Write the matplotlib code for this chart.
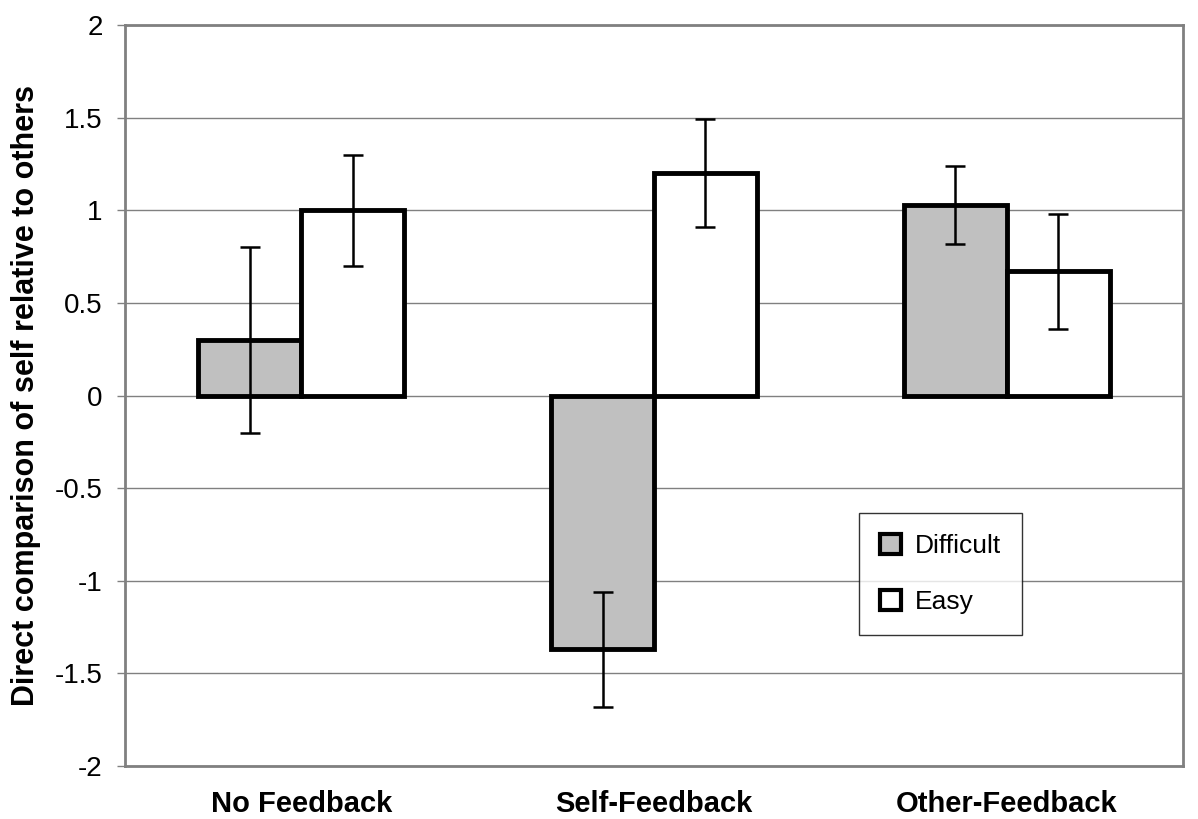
import matplotlib
matplotlib.use("Agg")
import matplotlib.pyplot as plt
import numpy as np

plt.rcParams['font.family'] = ['Liberation Sans', 'DejaVu Sans']

categories = ["No Feedback", "Self-Feedback", "Other-Feedback"]
series_names = ["Difficult", "Easy"]
difficult = [0.30, -1.37, 1.03]
easy = [1.00, 1.20, 0.67]
difficult_err = [0.50, 0.31, 0.21]
easy_err = [0.30, 0.29, 0.31]
yticks = [-2, -1.5, -1, -0.5, 0, 0.5, 1, 1.5, 2]
ytick_labels = ["-2", "-1.5", "-1", "-0.5", "0", "0.5", "1", "1.5", "2"]

fig = plt.figure(figsize=(11.98, 8.19), dpi=100)
ax = fig.add_axes([125/1198, (819-766)/819, (1183-125)/1198, (766-25)/819])

x = np.arange(len(categories))
w = 0.292
ax.set_axisbelow(True)
ax.grid(axis='y', color='#808080', linewidth=1.0)
ax.bar(x - w/2, difficult, w, color='#c0c0c0', edgecolor='black', linewidth=3.5, zorder=2, label=series_names[0])
ax.bar(x + w/2, easy, w, color='white', edgecolor='black', linewidth=3.5, zorder=2, label=series_names[1])
ax.errorbar(x - w/2, difficult, yerr=difficult_err, fmt='none', ecolor='black', elinewidth=1.8, capsize=7, capthick=1.8, zorder=3)
ax.errorbar(x + w/2, easy, yerr=easy_err, fmt='none', ecolor='black', elinewidth=1.8, capsize=7, capthick=1.8, zorder=3)

ax.set_xlim(-0.5, 2.5)
ax.set_ylim(-2, 2)
ax.set_yticks(yticks)
ax.set_yticklabels(ytick_labels, fontsize=20)
ax.set_xticks(x)
ax.set_xticklabels(categories, fontsize=21, fontweight='bold')
ax.tick_params(axis='x', length=0, pad=17)
ax.tick_params(axis='y', length=6, color='#808080', width=1, pad=10)
for s in ax.spines.values():
    s.set_color('#808080')
    s.set_linewidth(2)
ax.set_ylabel("Direct comparison of self relative to others", fontsize=22, fontweight='bold', labelpad=10)

leg = ax.legend(loc='upper left', bbox_to_anchor=((859-125)/1058, (766-513)/741),
                fontsize=19, frameon=True, fancybox=False, edgecolor='black',
                handlelength=0.8, handleheight=0.8, handletextpad=0.5,
                labelspacing=1.2, borderpad=0.8, borderaxespad=0)
leg.get_frame().set_linewidth(1)
for h in leg.legend_handles:
    h.set_linewidth(3)

fig.savefig("out.png", dpi=100)
